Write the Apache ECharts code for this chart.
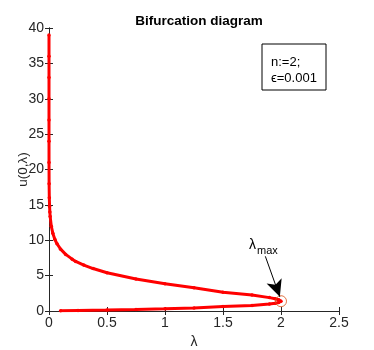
<!DOCTYPE html>
<html><head><meta charset="utf-8">
<script src="https://cdn.jsdelivr.net/npm/echarts@6/dist/echarts.min.js"></script>
<style>html,body{margin:0;padding:0;background:#fff}#c{width:374px;height:350px}</style>
</head><body><div id="c"></div>
<script>
const lambdaVals = [0.1,0.25,0.5,0.75,1.0,1.25,1.5,1.75,1.9,1.95,1.98,2.0,1.98,1.95,1.9,1.75,1.5,1.25,1.0,0.75,0.5,0.38,0.3,0.23,0.2,0.144,0.1,0.069,0.05,0.033,0.02,0.01,0.0073,0.005,0.0027,0.001,0.00022,0.000049,0.000011,0.0000024,0.00000055,0.00000012,0.000000027];
const uVals = [0.025,0.066,0.139,0.221,0.317,0.431,0.623,0.781,0.985,1.093,1.196,1.386,1.597,1.731,1.892,2.259,2.637,3.282,3.842,4.513,5.41,6.0,6.49,7.0,7.33,8.0,8.74,9.5,10.14,11.0,11.97,13.37,14.0,14.76,16.0,17.97,21.0,24.0,27.0,30.0,33.0,36.0,39.0];
const peakPoint = [2.0, 1.386];
const xTicks = ['0','0.5','1','1.5','2','2.5'];
const yTicks = ['0','5','10','15','20','25','30','35','40'];

const font = 'Liberation Sans, Arial, Helvetica, sans-serif';
const axCol = '#262626';
const chart = echarts.init(document.getElementById('c'));
const curve = lambdaVals.map((l, i) => [l, uVals[i]]);
const tickStyle = {show: true, inside: true, length: 4, lineStyle: {color: axCol}};
const lineStyleAx = {show: true, lineStyle: {color: axCol, width: 1}};
chart.setOption({
  animation: false,
  title: {text: 'Bifurcation diagram', left: 194, top: 9, textAlign: 'center',
    textStyle: {fontFamily: font, fontSize: 13.5, fontWeight: 'bold', color: '#000'}},
  grid: {left: 49, right: 35, top: 28, bottom: 39, containLabel: false, outerBoundsMode: 'none'},
  xAxis: [
    {type: 'value', min: 0, max: 2.5, interval: 0.5, position: 'bottom',
     name: 'λ', nameLocation: 'middle', nameGap: 24, nameMoveOverlap: false,
     nameTextStyle: {fontFamily: font, fontSize: 14, color: axCol},
     axisLine: lineStyleAx, axisTick: tickStyle, splitLine: {show: false},
     axisLabel: {fontFamily: font, fontSize: 14, color: axCol, margin: 5,
       formatter: v => xTicks[Math.round(v / 0.5)]}},
    {type: 'value', min: 0, max: 2.5, interval: 0.5, position: 'top',
     axisLine: lineStyleAx, axisTick: tickStyle, axisLabel: {show: false}, splitLine: {show: false}}
  ],
  yAxis: [
    {type: 'value', min: 0, max: 40, interval: 5, position: 'left',
     name: 'u(0,λ)', nameLocation: 'middle', nameGap: 19, nameMoveOverlap: false,
     nameTextStyle: {fontFamily: font, fontSize: 13.5, color: axCol},
     axisLine: lineStyleAx, axisTick: tickStyle, splitLine: {show: false},
     axisLabel: {fontFamily: font, fontSize: 14, color: axCol, margin: 5,
       formatter: v => yTicks[Math.round(v / 5)]}},
    {type: 'value', min: 0, max: 40, interval: 5, position: 'right',
     axisLine: lineStyleAx, axisTick: tickStyle, axisLabel: {show: false}, splitLine: {show: false}}
  ],
  series: [
    {type: 'line', data: curve, showSymbol: true, symbol: 'circle', symbolSize: 3.5,
     itemStyle: {color: '#ff0000'}, lineStyle: {color: '#ff0000', width: 3},
     z: 2,
     markLine: {silent: true, symbol: ['none', 'arrow'], symbolSize: [12, 17],
       lineStyle: {color: '#000', width: 1, type: 'solid'}, label: {show: false},
       data: [[{coord: [1.865, 7.73]}, {coord: [1.99, 2.0]}]]}},
    {type: 'scatter', data: [peakPoint], symbol: 'circle', symbolSize: 11,
     itemStyle: {color: 'rgba(0,0,0,0)', borderColor: '#D95319', borderWidth: 1}, z: 3}
  ],
  graphic: [
    {type: 'rect', shape: {x: 262, y: 44, width: 64, height: 46},
     style: {fill: '#fff', stroke: '#000', lineWidth: 1}, z: 10},
    {type: 'text', x: 271, y: 62, z: 11,
     style: {text: 'n:=2;', font: '13px ' + font, fill: '#000', verticalAlign: 'middle'}},
    {type: 'text', x: 271, y: 78, z: 11,
     style: {text: 'ϵ=0.001', font: '13px ' + font, fill: '#000', verticalAlign: 'middle'}},
    {type: 'text', x: 249, y: 245, z: 11,
     style: {text: 'λ', font: '14px ' + font, fill: '#000', verticalAlign: 'middle'}},
    {type: 'text', x: 257, y: 251, z: 11,
     style: {text: 'max', font: '11px ' + font, fill: '#000', verticalAlign: 'middle'}}
  ]
});
</script></body></html>
